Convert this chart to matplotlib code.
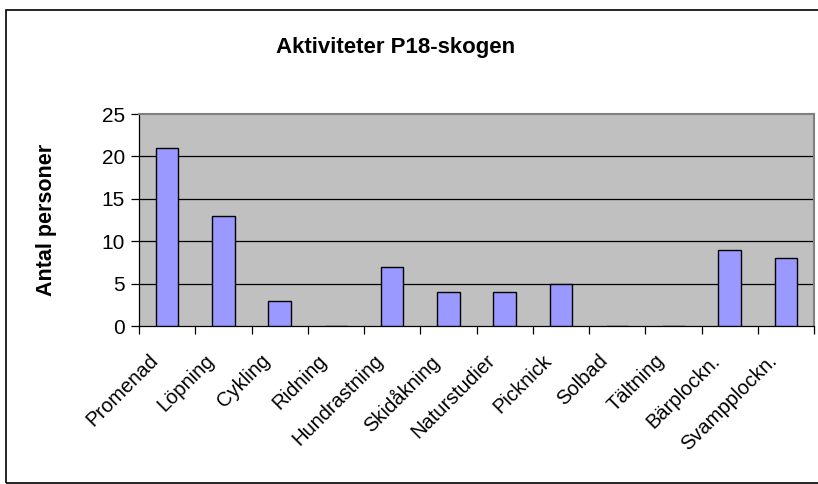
import numpy as np
import matplotlib.pyplot as plt
import matplotlib.transforms as mtransforms
from matplotlib.patches import Rectangle

plt.rcParams['font.family'] = ['Liberation Sans', 'DejaVu Sans']

kategorier = ['Promenad', 'Löpning', 'Cykling', 'Ridning', 'Hundrastning', 'Skidåkning',
              'Naturstudier', 'Picknick', 'Solbad', 'Tältning', 'Bärplockn.', 'Svampplockn.']
antal = [21, 13, 3, 0, 7, 4, 4, 5, 0, 0, 9, 8]
y_ticks = [0, 5, 10, 15, 20, 25]

fig = plt.figure(figsize=(8.18, 4.84), dpi=100)
ax = fig.add_axes([139 / 818, 1 - 326 / 484, (814 - 139) / 818, (326 - 114) / 484])

# ram runt hela diagrammet
fig.patches.append(Rectangle((6 / 818, 1 - 483 / 484), 1.0, (483 - 10) / 484,
                             transform=fig.transFigure, fill=False,
                             edgecolor='black', linewidth=1.2))

x = np.arange(len(kategorier))
ax.set_facecolor('#C0C0C0')
ax.bar(x, antal, width=0.4, color='#9999FF', edgecolor='black', linewidth=1.0, zorder=3)

ax.set_xlim(-0.5, len(kategorier) - 0.5)
ax.set_ylim(0, 25)
ax.set_yticks(y_ticks)
for v in y_ticks[1:-1]:
    ax.axhline(v, color='black', linewidth=0.9, zorder=1)

ax.set_xticks(x)
ax.set_xticklabels(kategorier, rotation=45, ha='right', va='top',
                   rotation_mode='anchor', fontsize=14.5)
ax.set_xticks(np.arange(len(kategorier) + 1) - 0.5, minor=True)
ax.tick_params(axis='x', which='major', length=0, pad=18)
ax.tick_params(axis='x', which='minor', length=6, width=0.9, color='black')
ax.tick_params(axis='y', length=6, width=0.9, labelsize=15, pad=4)

# flytta etiketterna lite till vänster
skift = mtransforms.ScaledTranslation(-0.19, 0, fig.dpi_scale_trans)
for lbl in ax.get_xticklabels():
    lbl.set_transform(lbl.get_transform() + skift)

for s in ['top', 'right']:
    ax.spines[s].set_color('#808080')
    ax.spines[s].set_linewidth(1.5)
for s in ['left', 'bottom']:
    ax.spines[s].set_color('black')
    ax.spines[s].set_linewidth(0.9)

ax.set_ylabel('Antal personer', fontsize=15.5, fontweight='bold', labelpad=32)
fig.text(396 / 818, 1 - 47 / 484, 'Aktiviteter P18-skogen', ha='center', va='center',
         fontsize=16, fontweight='bold')

fig.savefig('out.png', dpi=100)
